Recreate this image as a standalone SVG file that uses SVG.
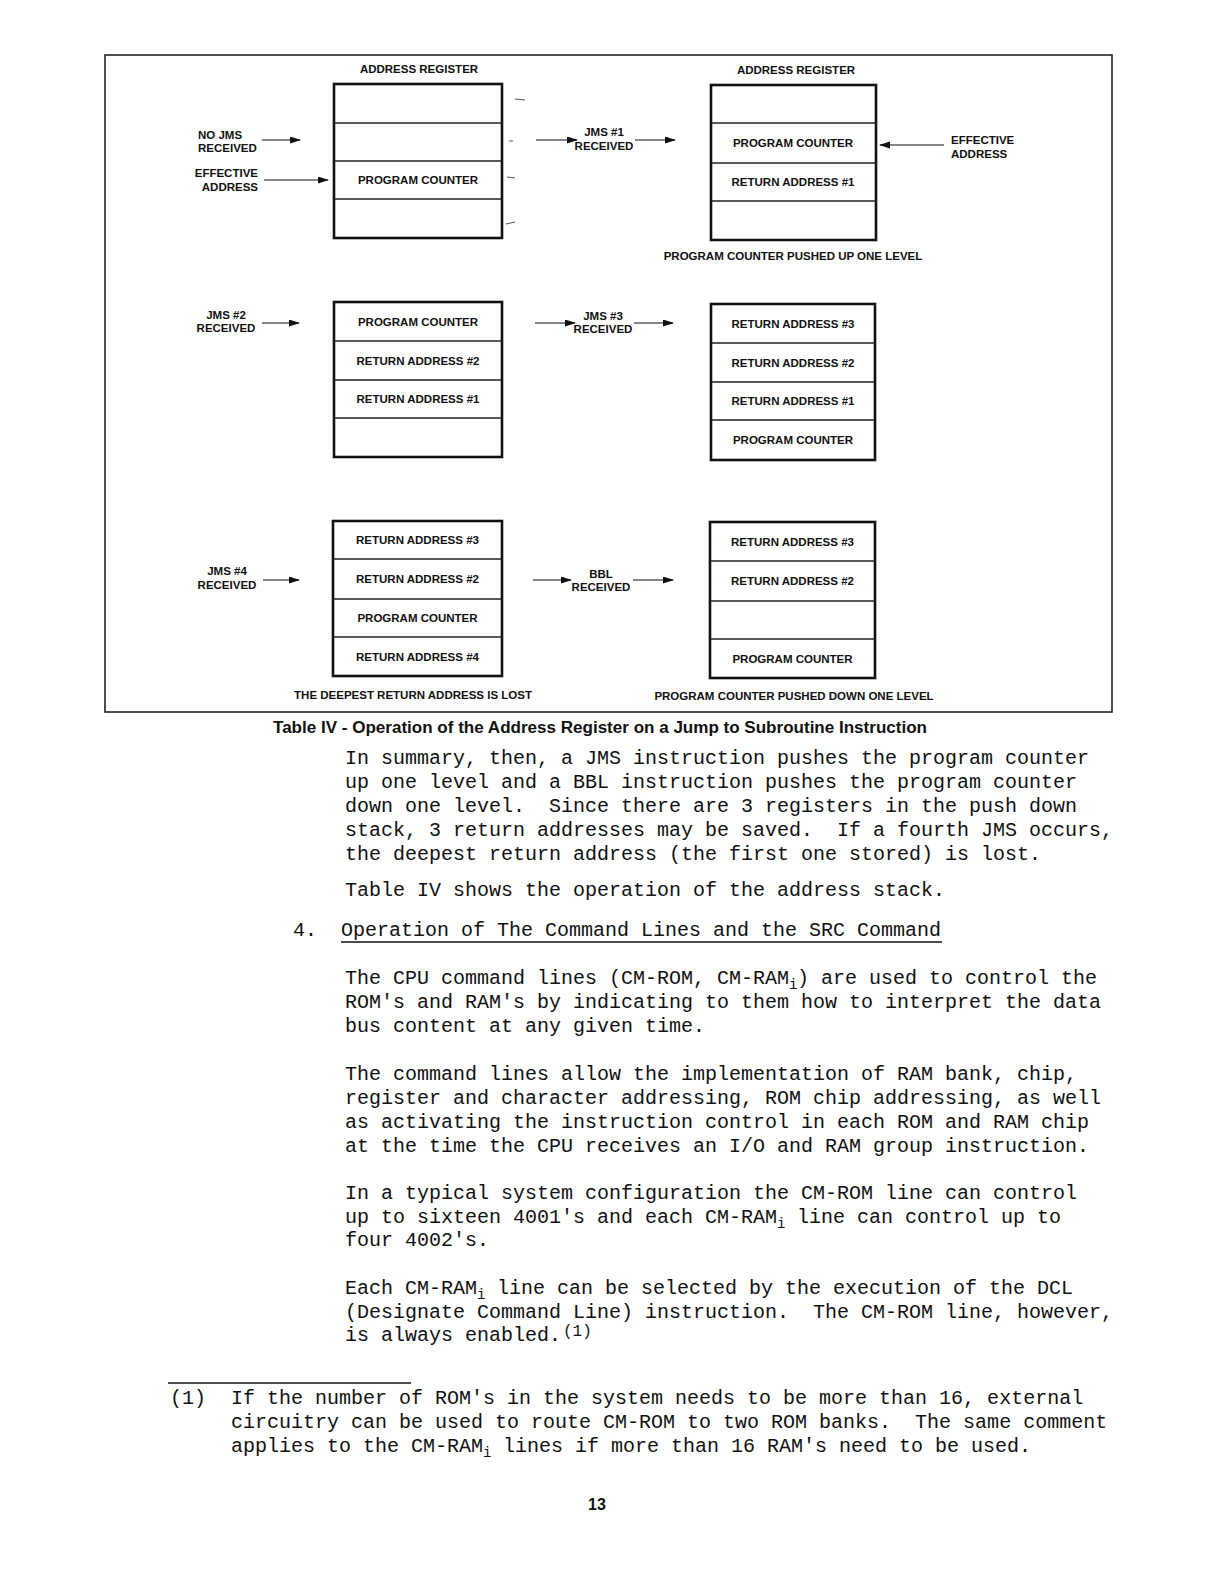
<svg xmlns="http://www.w3.org/2000/svg" width="1224" height="1584" viewBox="0 0 1224 1584">
<style>
  .bg { fill: #ffffff; }
  .frame { fill: none; stroke: #222; stroke-width: 1.6; }
  .box { fill: none; stroke: #111; stroke-width: 2.6; }
  .div { stroke: #222; stroke-width: 1.3; }
  .lab { font-family: "Liberation Sans", Arial, sans-serif; font-weight: bold; font-size: 11.5px; fill: #111; }
  .mid { text-anchor: middle; }
  .end { text-anchor: end; }
  .arr { stroke: #111; stroke-width: 1.1; fill: none; marker-end: url(#ah); }
  .tick { stroke: #555; stroke-width: 1; }
  .body { font-family: "Liberation Mono", "Courier New", monospace; font-size: 20px; fill: #111; white-space: pre; }
  .cap { font-family: "Liberation Sans", Arial, sans-serif; font-weight: bold; font-size: 16px; fill: #111; }
</style>
<defs>
  <marker id="ah" markerWidth="11" markerHeight="8" refX="10" refY="3.5" orient="auto" markerUnits="userSpaceOnUse">
    <path d="M0,0 L11,3.5 L0,7 z" fill="#111"/>
  </marker>
</defs>
<rect class="bg" x="0" y="0" width="1224" height="1584"/>

<g id="table-frame">
  <rect class="frame" x="105" y="55" width="1007" height="657"/>
</g>

<!-- Stage 1: before JMS -->
<g id="stage1">
  <text class="lab mid" x="419" y="73">ADDRESS REGISTER</text>
  <rect class="box" x="334" y="84" width="168" height="154"/>
  <line class="div" x1="334" y1="123" x2="502" y2="123"/>
  <line class="div" x1="334" y1="161" x2="502" y2="161"/>
  <line class="div" x1="334" y1="199" x2="502" y2="199"/>
  <text class="lab mid" x="418" y="184">PROGRAM COUNTER</text>
  <text class="lab" x="198" y="139">NO JMS</text>
  <text class="lab" x="198" y="152">RECEIVED</text>
  <text class="lab end" x="258" y="177">EFFECTIVE</text>
  <text class="lab end" x="258" y="191">ADDRESS</text>
  <line class="tick" x1="515" y1="99" x2="525" y2="100"/>
  <line class="tick" x1="509" y1="141" x2="513" y2="141"/>
  <line class="tick" x1="507" y1="177" x2="515" y2="178"/>
  <line class="tick" x1="506" y1="224" x2="515" y2="222"/>
</g>

<!-- Stage 2: JMS #1 -->
<g id="stage2">
  <text class="lab mid" x="796" y="74">ADDRESS REGISTER</text>
  <rect class="box" x="711" y="85" width="165" height="155"/>
  <line class="div" x1="711" y1="123" x2="876" y2="123"/>
  <line class="div" x1="711" y1="163" x2="876" y2="163"/>
  <line class="div" x1="711" y1="201" x2="876" y2="201"/>
  <text class="lab mid" x="793" y="147">PROGRAM COUNTER</text>
  <text class="lab mid" x="793" y="186">RETURN ADDRESS #1</text>
  <text class="lab mid" x="604" y="136">JMS #1</text>
  <text class="lab mid" x="604" y="150">RECEIVED</text>
  <text class="lab" x="951" y="144">EFFECTIVE</text>
  <text class="lab" x="951" y="158">ADDRESS</text>
  <text class="lab mid" x="793" y="260">PROGRAM COUNTER PUSHED UP ONE LEVEL</text>
</g>

<!-- Stage 3: JMS #2 -->
<g id="stage3">
  <rect class="box" x="334" y="302" width="168" height="155"/>
  <line class="div" x1="334" y1="341" x2="502" y2="341"/>
  <line class="div" x1="334" y1="380" x2="502" y2="380"/>
  <line class="div" x1="334" y1="418" x2="502" y2="418"/>
  <text class="lab mid" x="418" y="325.5">PROGRAM COUNTER</text>
  <text class="lab mid" x="418" y="364.5">RETURN ADDRESS #2</text>
  <text class="lab mid" x="418" y="403">RETURN ADDRESS #1</text>
  <text class="lab mid" x="226" y="319">JMS #2</text>
  <text class="lab mid" x="226" y="332">RECEIVED</text>
</g>

<!-- Stage 4: JMS #3 -->
<g id="stage4">
  <rect class="box" x="711" y="304" width="164" height="156"/>
  <line class="div" x1="711" y1="343" x2="875" y2="343"/>
  <line class="div" x1="711" y1="382" x2="875" y2="382"/>
  <line class="div" x1="711" y1="420" x2="875" y2="420"/>
  <text class="lab mid" x="793" y="327.5">RETURN ADDRESS #3</text>
  <text class="lab mid" x="793" y="366.5">RETURN ADDRESS #2</text>
  <text class="lab mid" x="793" y="405">RETURN ADDRESS #1</text>
  <text class="lab mid" x="793" y="444">PROGRAM COUNTER</text>
  <text class="lab mid" x="603" y="320">JMS #3</text>
  <text class="lab mid" x="603" y="333">RECEIVED</text>
</g>

<!-- Stage 5: JMS #4 -->
<g id="stage5">
  <rect class="box" x="333" y="521" width="169" height="155"/>
  <line class="div" x1="333" y1="559" x2="502" y2="559"/>
  <line class="div" x1="333" y1="599" x2="502" y2="599"/>
  <line class="div" x1="333" y1="637" x2="502" y2="637"/>
  <text class="lab mid" x="417.5" y="544">RETURN ADDRESS #3</text>
  <text class="lab mid" x="417.5" y="583">RETURN ADDRESS #2</text>
  <text class="lab mid" x="417.5" y="622">PROGRAM COUNTER</text>
  <text class="lab mid" x="417.5" y="660.5">RETURN ADDRESS #4</text>
  <text class="lab mid" x="227" y="575">JMS #4</text>
  <text class="lab mid" x="227" y="589">RECEIVED</text>
  <text class="lab mid" x="413" y="699">THE DEEPEST RETURN ADDRESS IS LOST</text>
</g>

<!-- Stage 6: BBL -->
<g id="stage6">
  <rect class="box" x="710" y="522" width="165" height="156"/>
  <line class="div" x1="710" y1="561" x2="875" y2="561"/>
  <line class="div" x1="710" y1="601" x2="875" y2="601"/>
  <line class="div" x1="710" y1="639" x2="875" y2="639"/>
  <text class="lab mid" x="792.5" y="545.5">RETURN ADDRESS #3</text>
  <text class="lab mid" x="792.5" y="585">RETURN ADDRESS #2</text>
  <text class="lab mid" x="792.5" y="662.5">PROGRAM COUNTER</text>
  <text class="lab mid" x="601" y="578">BBL</text>
  <text class="lab mid" x="601" y="591">RECEIVED</text>
  <text class="lab mid" x="794" y="700">PROGRAM COUNTER PUSHED DOWN ONE LEVEL</text>
</g>

<g id="connectors">
  <line class="arr" x1="262" y1="140" x2="300" y2="140"/>
  <line class="arr" x1="264" y1="180" x2="328" y2="180"/>
  <line class="arr" x1="536" y1="140" x2="577" y2="140"/>
  <line class="arr" x1="635" y1="140" x2="675" y2="140"/>
  <line class="arr" x1="944" y1="145" x2="880" y2="145"/>
  <line class="arr" x1="262" y1="323" x2="299" y2="323"/>
  <line class="arr" x1="535" y1="323" x2="575" y2="323"/>
  <line class="arr" x1="634" y1="323" x2="673" y2="323"/>
  <line class="arr" x1="263" y1="580" x2="299" y2="580"/>
  <line class="arr" x1="533" y1="580" x2="571" y2="580"/>
  <line class="arr" x1="633" y1="580" x2="673" y2="580"/>
</g>

<g id="caption">
  <text class="cap" x="273" y="733" textLength="654" lengthAdjust="spacingAndGlyphs">Table IV - Operation of the Address Register on a Jump to Subroutine Instruction</text>
</g>

<g id="body-text">
  <text class="body" x="345" y="764">In summary, then, a JMS instruction pushes the program counter</text>
  <text class="body" x="345" y="788">up one level and a BBL instruction pushes the program counter</text>
  <text class="body" x="345" y="812">down one level.  Since there are 3 registers in the push down</text>
  <text class="body" x="345" y="836">stack, 3 return addresses may be saved.  If a fourth JMS occurs,</text>
  <text class="body" x="345" y="860">the deepest return address (the first one stored) is lost.</text>
  <text class="body" x="345" y="896">Table IV shows the operation of the address stack.</text>
  <text class="body" x="293" y="936">4.</text>
  <text class="body" x="341" y="936">Operation of The Command Lines and the SRC Command</text>
  <line x1="341" y1="942" x2="942" y2="942" stroke="#111" stroke-width="1.3"/>
  <text class="body" x="345" y="984">The CPU command lines (CM-ROM, CM-RAM<tspan x="789" dy="5" font-size="14">i</tspan><tspan x="797" dy="-5">) are used to control the</tspan></text>
  <text class="body" x="345" y="1008">ROM's and RAM's by indicating to them how to interpret the data</text>
  <text class="body" x="345" y="1032">bus content at any given time.</text>
  <text class="body" x="345" y="1080">The command lines allow the implementation of RAM bank, chip,</text>
  <text class="body" x="345" y="1104">register and character addressing, ROM chip addressing, as well</text>
  <text class="body" x="345" y="1128">as activating the instruction control in each ROM and RAM chip</text>
  <text class="body" x="345" y="1152">at the time the CPU receives an I/O and RAM group instruction.</text>
  <text class="body" x="345" y="1199">In a typical system configuration the CM-ROM line can control</text>
  <text class="body" x="345" y="1223">up to sixteen 4001's and each CM-RAM<tspan x="777" dy="5" font-size="14">i</tspan><tspan x="785" dy="-5"> line can control up to</tspan></text>
  <text class="body" x="345" y="1246">four 4002's.</text>
  <text class="body" x="345" y="1294">Each CM-RAM<tspan x="477" dy="5" font-size="14">i</tspan><tspan x="485" dy="-5"> line can be selected by the execution of the DCL</tspan></text>
  <text class="body" x="345" y="1318">(Designate Command Line) instruction.  The CM-ROM line, however,</text>
  <text class="body" x="345" y="1341">is always enabled.<tspan x="563" dy="-5" font-size="16">(1)</tspan></text>
</g>

<g id="footnote">
  <line x1="168" y1="1383" x2="411" y2="1383" stroke="#111" stroke-width="1.6"/>
  <text class="body" x="170" y="1404">(1)</text>
  <text class="body" x="231" y="1404">If the number of ROM's in the system needs to be more than 16, external</text>
  <text class="body" x="231" y="1428">circuitry can be used to route CM-ROM to two ROM banks.  The same comment</text>
  <text class="body" x="231" y="1452">applies to the CM-RAM<tspan x="483" dy="5" font-size="14">i</tspan><tspan x="491" dy="-5"> lines if more than 16 RAM's need to be used.</tspan></text>
</g>

<g id="page-number">
  <text class="cap" x="597" y="1510" text-anchor="middle" font-size="18">13</text>
</g>
</svg>
